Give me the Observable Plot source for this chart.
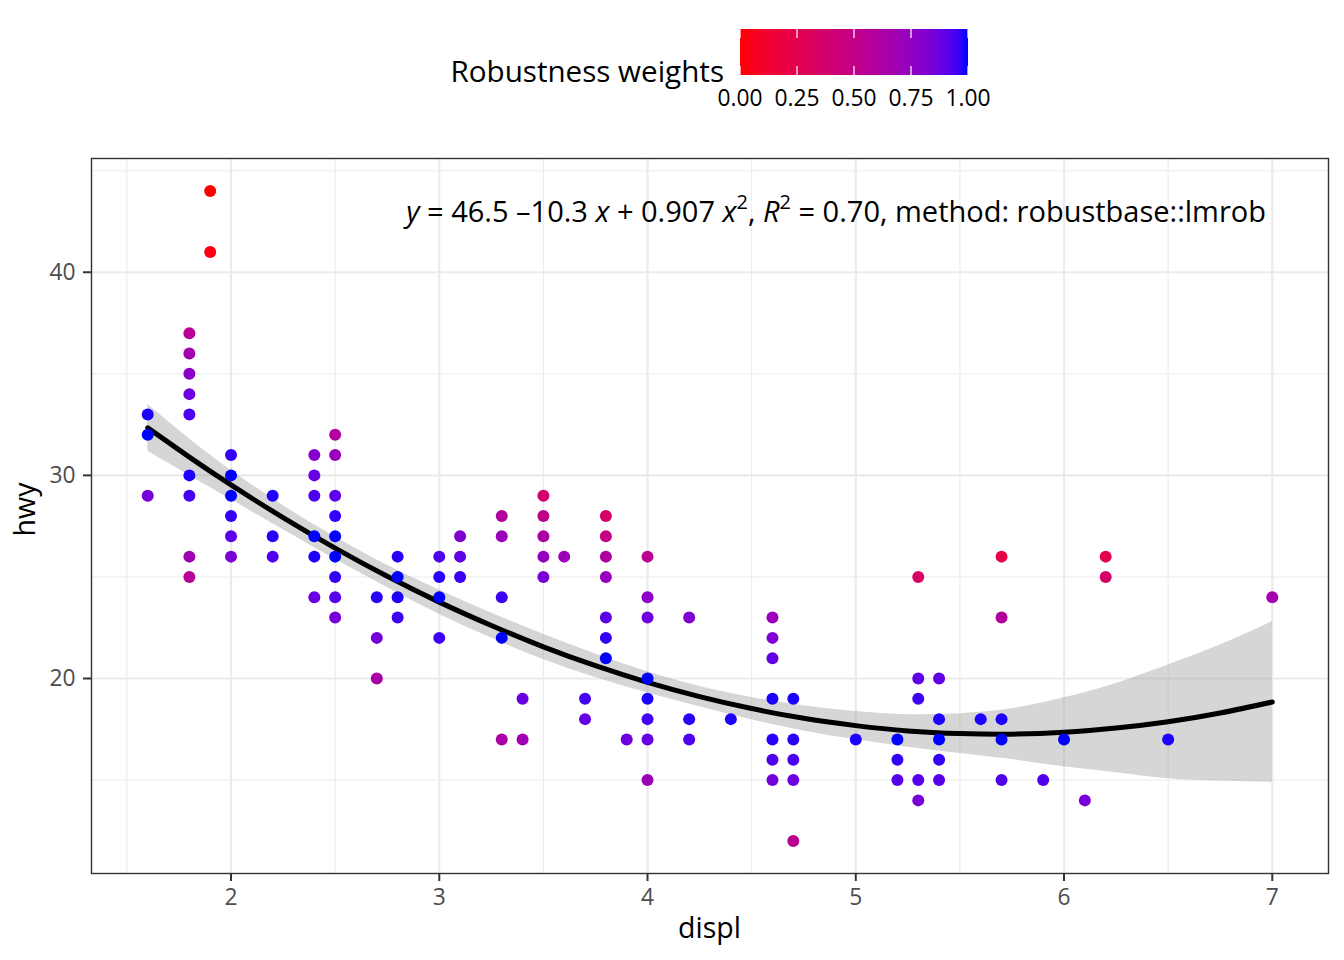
<!DOCTYPE html>
<html>
<head>
<meta charset="utf-8">
<script src="https://cdn.jsdelivr.net/npm/d3@7"></script>
<script src="https://cdn.jsdelivr.net/npm/@observablehq/plot@0.6"></script>
<style>
  body { margin: 0; background: #ffffff; }
  #wrap { width: 1344px; height: 960px; position: relative; overflow: hidden; background: #ffffff; font-family: "Open Sans", sans-serif; }
  #legend svg, #chart svg { display: block; }
</style>
</head>
<body>
<div id="wrap">
  <div id="legend"></div>
  <div id="chart"></div>
</div>
<script>
// ---------- data ----------
const displ = [
  1.6,1.6,1.6,
  1.8,1.8,1.8,1.8,1.8,1.8,1.8,1.8,1.8,
  1.9,1.9,
  2.0,2.0,2.0,2.0,2.0,2.0,
  2.2,2.2,2.2,
  2.4,2.4,2.4,2.4,2.4,2.4,
  2.5,2.5,2.5,2.5,2.5,2.5,2.5,2.5,2.5,
  2.7,2.7,2.7,
  2.8,2.8,2.8,2.8,
  3.0,3.0,3.0,3.0,
  3.1,3.1,3.1,
  3.3,3.3,3.3,3.3,3.3,
  3.4,3.4,
  3.5,3.5,3.5,3.5,3.5,
  3.6,
  3.7,3.7,
  3.8,3.8,3.8,3.8,3.8,3.8,3.8,
  3.9,
  4.0,4.0,4.0,4.0,4.0,4.0,4.0,4.0,
  4.2,4.2,4.2,
  4.4,
  4.6,4.6,4.6,4.6,4.6,4.6,4.6,
  4.7,4.7,4.7,4.7,4.7,
  5.0,
  5.2,5.2,5.2,
  5.3,5.3,5.3,5.3,5.3,
  5.4,5.4,5.4,5.4,5.4,
  5.6,
  5.7,5.7,5.7,5.7,5.7,
  5.9,
  6.0,
  6.1,
  6.2,6.2,
  6.5,
  7.0
];
const hwy = [
  33,32,29,
  37,36,35,34,33,30,29,26,25,
  44,41,
  31,30,29,28,27,26,
  29,27,26,
  31,30,29,27,26,24,
  32,31,29,28,27,26,25,24,23,
  24,22,20,
  26,25,24,23,
  26,25,24,22,
  27,26,25,
  28,27,24,22,17,
  19,17,
  29,28,27,26,25,
  26,
  19,18,
  28,27,26,25,23,22,21,
  17,
  26,24,23,20,19,18,17,15,
  23,18,17,
  18,
  23,22,21,19,17,16,15,
  19,17,16,15,12,
  17,
  17,16,15,
  25,20,19,15,14,
  20,18,17,16,15,
  18,
  26,23,18,17,15,
  15,
  17,
  14,
  26,25,
  17,
  24
];
const weights = [
  0.99,1.00,0.85,
  0.54,0.66,0.78,0.87,0.94,0.99,0.95,0.69,0.56,
  0.00,0.03,
  0.97,1.00,1.00,0.97,0.91,0.83,
  0.99,0.98,0.93,
  0.79,0.88,0.94,1.00,0.99,0.88,
  0.60,0.72,0.91,0.97,1.00,1.00,0.97,0.92,0.84,
  0.98,0.85,0.64,
  0.98,1.00,0.99,0.96,
  0.93,0.98,1.00,0.96,
  0.81,0.90,0.96,
  0.60,0.72,0.96,1.00,0.63,
  0.88,0.68,
  0.37,0.50,0.62,0.74,0.84,
  0.70,
  0.95,0.89,
  0.36,0.48,0.61,0.73,0.91,0.97,1.00,
  0.87,
  0.53,0.76,0.86,1.00,0.99,0.95,0.89,0.70,
  0.81,0.98,0.93,
  0.99,
  0.71,0.82,0.90,0.99,0.98,0.93,0.85,
  0.99,0.98,0.94,0.87,0.54,
  0.99,
  1.00,0.97,0.92,
  0.35,0.90,0.96,0.92,0.84,
  0.90,0.99,1.00,0.97,0.92,
  0.99,
  0.21,0.59,0.99,1.00,0.93,
  0.93,
  1.00,
  0.84,
  0.24,0.36,
  0.99,
  0.66
];

// fitted robust quadratic and its confidence band
const fitX  = [1.6, 1.8, 2.0, 2.25, 2.5, 2.75, 3.0, 3.25, 3.5, 3.75, 4.0, 4.25, 4.5, 4.75, 5.0, 5.25, 5.5, 5.75, 6.0, 6.25, 6.5, 6.75, 7.0];
const fitY  = [32.34,30.90,29.53,27.92,26.42,25.03,23.76,22.61,21.56,20.63,19.81,19.11,18.52,18.04,17.68,17.42,17.29,17.26,17.35,17.56,17.87,18.30,18.84];
const fitLo = [31.19,30.00,28.81,27.32,25.87,24.48,23.16,21.99,20.94,20.05,19.29,18.61,17.97,17.42,16.98,16.62,16.31,16.01,15.65,15.36,15.07,14.95,14.89];
const fitHi = [33.49,31.80,30.25,28.52,26.97,25.58,24.36,23.23,22.18,21.21,20.33,19.61,19.07,18.66,18.38,18.22,18.27,18.51,19.05,19.76,20.67,21.65,22.79];

const xTicks = [2, 3, 4, 5, 6, 7];
const xMinor = [1.5, 2.5, 3.5, 4.5, 5.5, 6.5];
const yTicks = [20, 30, 40];
const yMinor = [15, 25, 35, 45];
const legendTicks = [0, 0.25, 0.5, 0.75, 1];
const legendTitle = "Robustness weights";
const xTitle = "displ";
const yTitle = "hwy";

// ---------- tables ----------
const points = displ.map((d, i) => ({displ: d, hwy: hwy[i], w: weights[i]}));
const smooth = fitX.map((x, i) => ({x, fit: fitY[i], lo: fitLo[i], hi: fitHi[i]}));

const FONT = '"Open Sans", "Noto Sans", sans-serif';
const colorScale = d3.scaleLinear().domain([0, 1]).range(["red", "blue"]).interpolate(d3.interpolateLab);

// ---------- legend (above the chart) ----------
const lg = d3.create("svg").attr("width", 1344).attr("height", 130)
  .style("font-family", FONT);
const grad = lg.append("defs").append("linearGradient").attr("id", "rwgrad")
  .attr("x1", "0%").attr("x2", "100%").attr("y1", "0%").attr("y2", "0%");
d3.range(0, 1.0001, 0.05).forEach(t => grad.append("stop").attr("offset", t).attr("stop-color", colorScale(t)));
const barX = 740, barY = 29, barW = 228, barH = 46;
const lx = d3.scaleLinear().domain([0, 1]).range([barX, barX + barW]);
lg.append("rect").attr("x", barX).attr("y", barY).attr("width", barW).attr("height", barH).attr("fill", "url(#rwgrad)");
legendTicks.forEach(t => {
  lg.append("line").attr("x1", lx(t)).attr("x2", lx(t)).attr("y1", barY).attr("y2", barY + 9)
    .attr("stroke", "white").attr("stroke-width", 1.2);
  lg.append("line").attr("x1", lx(t)).attr("x2", lx(t)).attr("y1", barY + barH - 9).attr("y2", barY + barH)
    .attr("stroke", "white").attr("stroke-width", 1.2);
  lg.append("text").attr("x", lx(t)).attr("y", 106).attr("text-anchor", "middle")
    .attr("font-size", 22.8).attr("fill", "black").text(d3.format(".2f")(t));
});
lg.append("text").attr("x", 724).attr("y", 82).attr("text-anchor", "end")
  .attr("font-size", 29.6).attr("fill", "black").text(legendTitle);
document.getElementById("legend").appendChild(lg.node());

// ---------- equation + axis titles (render marks) ----------
function annotations(index, scales, values, dim) {
  const g = d3.create("svg:g").style("font-family", FONT);
  const left = dim.marginLeft, right = dim.width - dim.marginRight;
  const top = dim.marginTop, bottom = dim.height - dim.marginBottom;
  // equation label
  const t = g.append("text").attr("x", right - 62).attr("y", top + 64)
    .attr("text-anchor", "end").attr("font-size", 29).attr("fill", "black")
    .style("white-space", "pre").attr("id", "eqn");
  t.append("tspan").attr("font-style", "italic").text("y");
  t.append("tspan").text(" = 46.5 \u201310.3 ");
  t.append("tspan").attr("font-style", "italic").text("x");
  t.append("tspan").text(" + 0.907 ");
  t.append("tspan").attr("font-style", "italic").text("x");
  t.append("tspan").attr("font-size", 20).attr("dy", -13).text("2");
  t.append("tspan").attr("dy", 13).text(", ");
  t.append("tspan").attr("font-style", "italic").text("R");
  t.append("tspan").attr("font-size", 20).attr("dy", -13).text("2");
  t.append("tspan").attr("dy", 13).text(" = 0.70, method: robustbase::lmrob");
  // axis titles
  g.append("text").attr("x", (left + right) / 2).attr("y", bottom + 65)
    .attr("text-anchor", "middle").attr("font-size", 28.5).attr("fill", "black").text(xTitle);
  g.append("text").attr("transform", `translate(${35},${(top + bottom) / 2 - 6}) rotate(-90)`)
    .attr("text-anchor", "middle").attr("font-size", 28.5).attr("fill", "black").text(yTitle);
  return g.node();
}

// ---------- main chart ----------
const chart = Plot.plot({
  width: 1344,
  height: 830,
  marginTop: 28,
  marginBottom: 87,
  marginLeft: 91,
  marginRight: 16,
  style: {fontFamily: FONT, background: "white", overflow: "visible"},
  x: {domain: [1.33, 7.27]},
  y: {domain: [10.4, 45.6]},
  color: {type: "linear", domain: [0, 1], range: ["red", "blue"], interpolate: d3.interpolateLab},
  marks: [
    Plot.gridX(xMinor, {stroke: "#EBEBEB", strokeOpacity: 1, strokeWidth: 1.1}),
    Plot.gridY(yMinor, {stroke: "#EBEBEB", strokeOpacity: 1, strokeWidth: 1.1}),
    Plot.gridX(xTicks, {stroke: "#EBEBEB", strokeOpacity: 1, strokeWidth: 2.2}),
    Plot.gridY(yTicks, {stroke: "#EBEBEB", strokeOpacity: 1, strokeWidth: 2.2}),
    Plot.areaY(smooth, {x: "x", y1: "lo", y2: "hi", fill: "#999999", fillOpacity: 0.4, curve: "natural"}),
    Plot.line(smooth, {x: "x", y: "fit", stroke: "black", strokeWidth: 5, curve: "natural"}),
    Plot.dot(points, {x: "displ", y: "hwy", fill: "w", r: 6}),
    Plot.frame({stroke: "#333333", strokeWidth: 1.4}),
    Plot.axisX(xTicks, {tickSize: 8, tickPadding: 7, fontSize: 22.8, stroke: "#333333", strokeWidth: 2, fill: "#4D4D4D", label: null, tickFormat: d3.format("d")}),
    Plot.axisY(yTicks, {tickSize: 8, tickPadding: 8, fontSize: 22.8, stroke: "#333333", strokeWidth: 2, fill: "#4D4D4D", label: null, tickFormat: d3.format("d")}),
    annotations
  ]
});
document.getElementById("chart").appendChild(chart);
</script>
</body>
</html>
